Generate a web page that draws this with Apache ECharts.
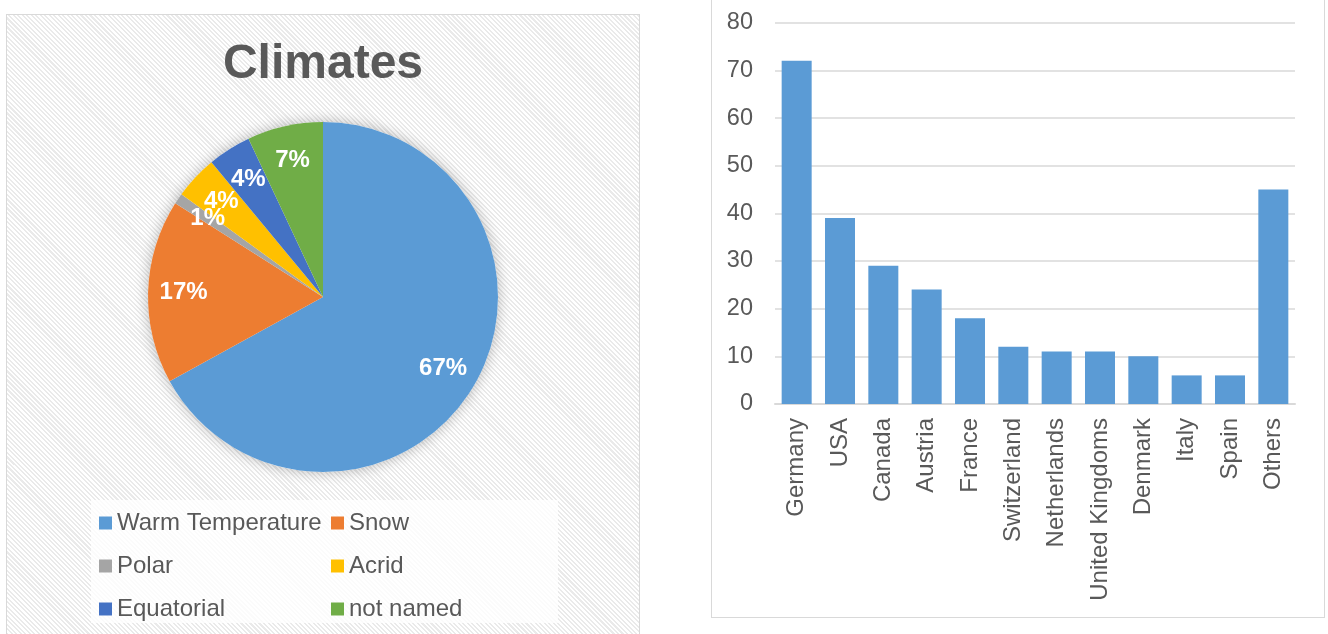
<!DOCTYPE html>
<html>
<head>
<meta charset="utf-8">
<script src="https://cdn.jsdelivr.net/npm/echarts@6/dist/echarts.min.js"></script>
<style>
  html, body { margin: 0; padding: 0; background: #ffffff; }
  #stage { position: relative; width: 1328px; height: 634px; overflow: hidden; }
  #panelLeft {
    position: absolute; left: 6px; top: 14px; width: 632px; height: 640px;
    border: 1.5px solid #d9d9d9;
    background: repeating-linear-gradient(45deg, #ffffff 0px, #ffffff 1.7px, #eaeaea 1.7px, #eaeaea 3.2px);
  }
  #legendBox {
    position: absolute; left: 91px; top: 500px; width: 467px; height: 123px;
    background: rgba(255, 255, 255, 0.82);
  }
  #panelRight {
    position: absolute; left: 711px; top: -6px; width: 612px; height: 622px;
    border: 1.5px solid #d9d9d9; background: #ffffff;
  }
  #chart { position: absolute; left: 0; top: 0; width: 1328px; height: 634px; }
</style>
</head>
<body>
<div id="stage">
  <div id="panelLeft"></div>
  <div id="legendBox"></div>
  <div id="panelRight"></div>
  <div id="chart"></div>
</div>
<script>
// Climate shares (percent)
const climateNames = ['Warm Temperature', 'Snow', 'Polar', 'Acrid', 'Equatorial', 'not named'];
const climateValues = [67, 17, 1, 4, 4, 7];
const climateColors = ['#5b9bd5', '#ed7d31', '#a5a5a5', '#ffc000', '#4472c4', '#70ad47'];

// Counts per country
const countries = ['Germany', 'USA', 'Canada', 'Austria', 'France', 'Switzerland',
  'Netherlands', 'United Kingdoms', 'Denmark', 'Italy', 'Spain', 'Others'];
const countryCounts = [72, 39, 29, 24, 18, 12, 11, 11, 10, 6, 6, 45];

// Value axis ticks
const yMin = 0, yMax = 80, yStep = 10;

const FONT = '"Liberation Sans", Arial, sans-serif';
const TEXT_GREY = '#595959';
const PIE_CENTER = [323, 297];
const PIE_R = 175;

const pieData = climateNames.map((n, i) => ({
  name: n, value: climateValues[i], itemStyle: { color: climateColors[i] }
}));

const chart = echarts.init(document.getElementById('chart'), null, { renderer: 'canvas' });

const legendText = { fontFamily: FONT, fontSize: 24, color: TEXT_GREY, lineHeight: 23 };

chart.setOption({
  backgroundColor: 'transparent',
  animation: false,
  textStyle: { fontFamily: FONT },
  title: {
    text: 'Climates',
    left: 318,
    textAlign: 'center',
    top: 36,
    textStyle: { fontFamily: FONT, fontSize: 48, fontWeight: 'bold', color: TEXT_GREY }
  },
  legend: [
    {
      data: ['Warm Temperature', 'Polar', 'Equatorial'],
      orient: 'vertical', left: 94, top: 506,
      icon: 'rect', itemWidth: 13, itemHeight: 13, itemGap: 19,
      selectedMode: false,
      textStyle: legendText
    },
    {
      data: ['Snow', 'Acrid', 'not named'],
      orient: 'vertical', left: 326, top: 506,
      icon: 'rect', itemWidth: 13, itemHeight: 13, itemGap: 19,
      selectedMode: false,
      textStyle: legendText
    }
  ],
  grid: { left: 775, right: 33, top: 22.7, bottom: 230, containLabel: false },
  xAxis: {
    type: 'category',
    data: countries,
    axisLine: { show: true, lineStyle: { color: '#d9d9d9', width: 2 } },
    axisTick: { show: false },
    axisLabel: {
      rotate: 90, margin: 14, interval: 0,
      fontFamily: FONT, fontSize: 24, color: TEXT_GREY
    }
  },
  yAxis: {
    type: 'value',
    min: yMin, max: yMax, interval: yStep,
    axisLine: { show: false },
    axisTick: { show: false },
    splitLine: { lineStyle: { color: '#d9d9d9', width: 1.5 } },
    axisLabel: { margin: 22, fontFamily: FONT, fontSize: 23.5, color: TEXT_GREY }
  },
  series: [
    {
      // main pie
      type: 'pie',
      name: 'Climates',
      center: PIE_CENTER,
      radius: [0, PIE_R],
      startAngle: 90,
      clockwise: true,
      z: 3,
      silent: true,
      label: { show: false },
      labelLine: { show: false },
      data: pieData
    },
    {
      // soft shadow disc under the pie
      type: 'pie',
      name: 'pieShadow',
      center: PIE_CENTER,
      radius: [0, PIE_R],
      z: 1,
      silent: true,
      label: { show: false },
      labelLine: { show: false },
      itemStyle: { color: '#ffffff', shadowBlur: 14, shadowColor: 'rgba(0,0,0,0.28)' },
      data: [{ name: '', value: 1 }]
    },
    {
      // percentage labels placed on a ring inside the pie
      type: 'pie',
      name: 'ClimateLabels',
      center: PIE_CENTER,
      radius: [PIE_R * 0.56, PIE_R],
      startAngle: 90,
      clockwise: true,
      avoidLabelOverlap: false,
      z: 5,
      silent: true,
      itemStyle: { color: 'rgba(0,0,0,0)' },
      labelLine: { show: false },
      labelLayout: { hideOverlap: false },
      label: {
        show: true, position: 'inside',
        formatter: p => Math.round(p.percent) + '%',
        fontFamily: FONT, fontSize: 24, fontWeight: 'bold', color: '#ffffff'
      },
      data: climateNames.map((n, i) => ({ name: n, value: climateValues[i] }))
    },
    {
      type: 'bar',
      name: 'Count',
      data: countryCounts,
      barWidth: 30,
      itemStyle: { color: '#5b9bd5' },
      silent: true
    }
  ]
});
</script>
</body>
</html>
